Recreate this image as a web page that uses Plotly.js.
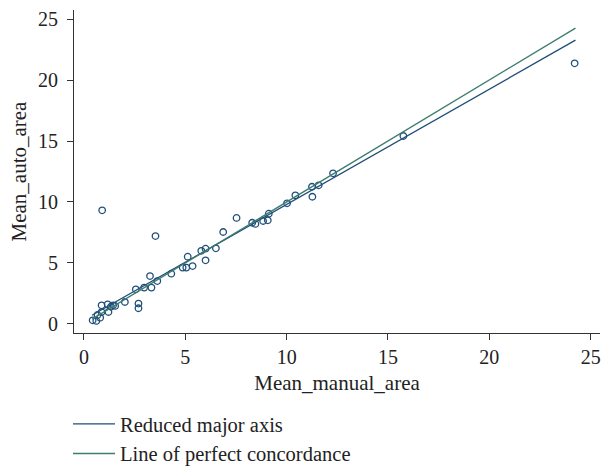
<!DOCTYPE html>
<html>
<head>
<meta charset="utf-8">
<script src="https://cdn.plot.ly/plotly-3.0.1.min.js"></script>
<style>html,body{margin:0;padding:0;background:#fff;}#chart{width:603px;height:466px;}</style>
</head>
<body>
<div id="chart"></div>
<script>
// Scatter data
const manualArea = [0.43, 0.61, 0.67, 0.80, 0.87, 0.87, 0.90, 1.17, 1.21, 1.33, 1.44, 1.54, 2.02, 2.56, 2.69, 2.69, 2.97, 3.26, 3.33, 3.53, 3.62, 4.31, 4.87, 5.05, 5.12, 5.36, 5.79, 6.00, 6.00, 6.51, 6.87, 7.53, 8.30, 8.46, 8.84, 9.07, 9.12, 10.02, 10.43, 11.25, 11.27, 11.58, 12.29, 15.76, 24.21];
const autoArea   = [0.30, 0.25, 0.74, 0.52, 0.98, 1.53, 9.32, 1.61, 0.98, 1.42, 1.53, 1.48, 1.80, 2.84, 1.67, 1.29, 2.98, 3.93, 2.98, 7.21, 3.52, 4.12, 4.62, 4.62, 5.52, 4.75, 6.00, 6.17, 5.22, 6.20, 7.54, 8.69, 8.30, 8.20, 8.44, 8.50, 9.04, 9.89, 10.55, 11.25, 10.43, 11.37, 12.35, 15.41, 21.37];
// Line endpoints
const rmaX = [0.40, 24.25];
const rmaY = [0.71, 23.27];
const concX = [0.40, 24.25];
const concY = [0.40, 24.25];
const tickVals = [0, 5, 10, 15, 20, 25];
const seriesNames = ["Reduced major axis", "Line of perfect concordance"];
const xTitle = "Mean_manual_area";
const yTitle = "Mean_auto_area";

const navy = "#1f4e79";
const teal = "#3b7d70";
const font = "Liberation Serif, Times New Roman, serif";

const traces = [
  {x: manualArea, y: autoArea, mode: "markers", type: "scatter", showlegend: false,
   marker: {symbol: "circle-open", size: 6.5, color: navy, line: {width: 1.3, color: navy}}},
  {x: rmaX, y: rmaY, mode: "lines", type: "scatter", name: seriesNames[0],
   line: {color: navy, width: 1.3}},
  {x: concX, y: concY, mode: "lines", type: "scatter", name: seriesNames[1],
   line: {color: teal, width: 1.3}}
];

const layout = {
  width: 603, height: 466,
  paper_bgcolor: "#fff", plot_bgcolor: "#fff",
  margin: {l: 74, r: 3, t: 10, b: 133, autoexpand: false},
  font: {family: font, size: 20, color: "#222"},
  xaxis: {range: [-0.49, 25.46], tickvals: tickVals, ticks: "outside", ticklen: 6, tickcolor: "#333",
          showline: true, linecolor: "#333", linewidth: 1, showgrid: false, zeroline: false,
          tickfont: {family: font, size: 20, color: "#222"},
          title: {text: xTitle, font: {family: font, size: 21, color: "#222"}, standoff: 8}},
  yaxis: {range: [-0.74, 25.74], tickvals: tickVals, ticks: "outside", ticklen: 6, tickcolor: "#333",
          showline: true, linecolor: "#333", linewidth: 1, showgrid: false, zeroline: false,
          ticklabelstandoff: 5,
          tickfont: {family: font, size: 20, color: "#222"}},
  annotations: [
    {text: yTitle, xref: "paper", yref: "paper", x: -56/526, y: 0.5, xanchor: "center", yanchor: "middle",
     textangle: -90, showarrow: false, font: {family: font, size: 21, color: "#222"}}
  ],
  showlegend: true,
  legend: {xref: "container", yref: "container", x: 68/603, y: 1 - 404/466, xanchor: "left", yanchor: "top",
           orientation: "v", itemwidth: 42, bgcolor: "rgba(0,0,0,0)",
           font: {family: font, size: 20.5, color: "#222"}}
};

Plotly.newPlot("chart", traces, layout, {displayModeBar: false, staticPlot: true});
</script>
</body>
</html>
